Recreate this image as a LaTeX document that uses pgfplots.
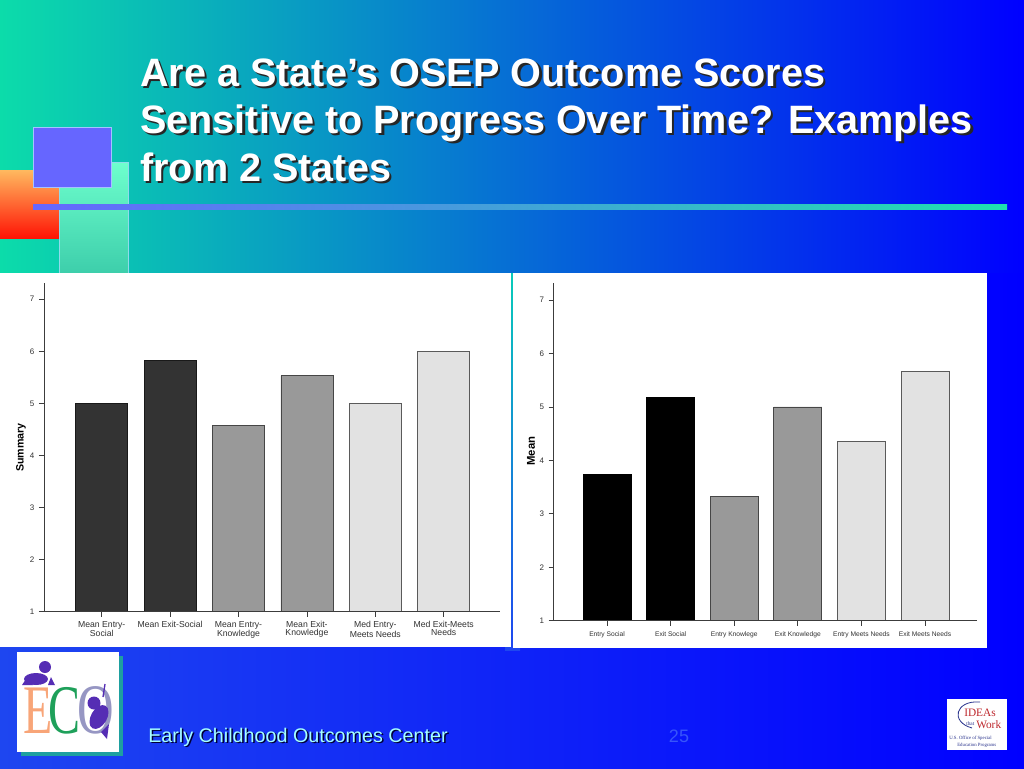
\documentclass[border=0pt]{standalone}
\usepackage{fontspec}
\setmainfont{Liberation Sans}
\newfontfamily\seriffont{Liberation Serif}
\usepackage{pgfplots}
\pgfplotsset{compat=1.18}
\definecolor{bgA}{RGB}{12,220,170}
\definecolor{bgB}{RGB}{0,165,222}
\definecolor{bgC}{RGB}{0,0,255}
\definecolor{bgD}{RGB}{30,70,240}
\definecolor{orT}{RGB}{255,185,95}
\definecolor{orB}{RGB}{255,20,5}
\definecolor{mintT}{RGB}{110,255,205}
\definecolor{mintB}{RGB}{60,205,170}
\definecolor{purp}{RGB}{102,102,255}
\definecolor{purpE}{RGB}{165,195,255}
\definecolor{lineR}{RGB}{30,225,175}
\definecolor{foot}{RGB}{165,255,255}
\definecolor{num}{RGB}{55,85,250}
\definecolor{peach}{RGB}{248,165,120}
\definecolor{ecogreen}{RGB}{30,160,90}
\definecolor{ecogray}{RGB}{150,150,195}
\definecolor{ecopurp}{RGB}{85,45,180}
\definecolor{shadowteal}{RGB}{30,160,160}
\definecolor{ideared}{RGB}{190,40,45}
\definecolor{ideablue}{RGB}{40,50,140}
\definecolor{axgray}{RGB}{60,60,60}
\definecolor{labgray}{RGB}{50,50,50}
\definecolor{cDark}{RGB}{51,51,51}
\definecolor{cMid}{RGB}{153,153,153}
\definecolor{cLight}{RGB}{226,226,226}
\definecolor{eMid}{RGB}{70,70,70}
\definecolor{eLight}{RGB}{90,90,90}
\begin{document}
\begin{tikzpicture}
\useasboundingbox (0,0) rectangle (768pt,-576pt);
\begin{scope}[x=0.75pt,y=-0.75pt]
\clip (0,0) rectangle (1024,768);
% background
\shade[left color=bgA, middle color=bgB, right color=bgC] (0,0) rectangle (1024,274);
\shade[left color=bgD, right color=bgC] (0,273) rectangle (1024,768);
\shade[top color=bgA!70!bgB, bottom color=bgD] (505,273) rectangle (520,650);
% decorations
\shade[top color=orT, bottom color=orB] (0,170) rectangle (59,238);
\shade[top color=mintT, bottom color=mintB] (59,162) rectangle (128,276);
\draw[purpE!60!mintT, line width=0.6pt] (59,276) -- (59,162) -- (128,162) -- (128,276);
\fill[purp] (33,127) rectangle (111,187);
\draw[purpE, line width=0.75pt] (33,127) rectangle (111,187);
\shade[left color=purp, right color=lineR] (33,204) rectangle (1007,209);
% panels
\fill[white] (0,273) rectangle (511,647);
\fill[white] (513,273) rectangle (987,648);
% title
\foreach \t/\yy in {{Are a State’s OSEP Outcome Scores}/86,{Sensitive to Progress Over Time? Examples}/133,{from 2 States}/181}{
  \node[anchor=base west, inner sep=0pt, text=black!85, font=\bfseries\fontsize{29.7}{30}\selectfont] at (142.5,\yy+2.5) {\t};
  \node[anchor=base west, inner sep=0pt, text=white, font=\bfseries\fontsize{29.7}{30}\selectfont] at (140,\yy) {\t};
}
% footer
\node[anchor=base west, inner sep=0pt, text=black!80!blue, font=\fontsize{14.8}{15}\selectfont] at (149.5,743.5) {Early Childhood Outcomes Center};
\node[anchor=base west, inner sep=0pt, text=foot, font=\fontsize{14.8}{15}\selectfont] at (148,742) {Early Childhood Outcomes Center};
\node[anchor=base, inner sep=0pt, text=num, font=\fontsize{13.5}{14}\selectfont] at (679,742) {25};
% ECO logo
\fill[shadowteal] (21,656) rectangle (123,756);
\fill[white] (17,652) rectangle (119,752);
\node[anchor=base, inner sep=0pt, text=peach, font=\seriffont\fontsize{36}{36}\selectfont, yscale=1.45] at (38,733) {E};
\node[anchor=base, inner sep=0pt, text=ecogreen, font=\seriffont\fontsize{36}{36}\selectfont, yscale=1.45] at (65,733) {C};
\node[anchor=base, inner sep=0pt, text=ecogray, font=\seriffont\fontsize{38}{38}\selectfont, yscale=1.4] at (96,733) {O};
\fill[ecopurp] (36,679) ellipse (12 and 6);
\fill[ecopurp] (45,667) circle (6);
\fill[ecopurp] (22,685) -- (28,676) -- (33,685) -- cycle;
\fill[ecopurp] (48,685) -- (51,677) -- (55,685) -- cycle;
\fill[ecopurp] (94,703) circle (6.5);
\fill[ecopurp, rotate around={-30:(99,717)}] (99,717) ellipse (8 and 13);
\draw[ecopurp, line width=1pt] (103,697) -- (105,684);
\fill[ecopurp] (101,732) -- (109,724) -- (107,739) -- cycle;
% IDEAs logo
\fill[white] (947,699) rectangle (1007,750);
\draw[ideablue, line width=0.6pt] (980,702) .. controls (955,700) and (950,722) .. (972,728);
\node[anchor=base west, inner sep=0pt, text=ideared, font=\seriffont\fontsize{8.5}{9}\selectfont] at (964,716) {IDEAs};
\node[anchor=base west, inner sep=0pt, text=ideablue, font=\seriffont\fontsize{4}{4}\selectfont] at (966,725) {that};
\node[anchor=base west, inner sep=0pt, text=ideared, font=\seriffont\fontsize{8.5}{9}\selectfont] at (976,728) {Work};
\node[anchor=base west, inner sep=0pt, text=ideablue, font=\seriffont\fontsize{3.6}{4}\selectfont] at (949,739) {U.S. Office of Special};
\node[anchor=base west, inner sep=0pt, text=ideablue, font=\seriffont\fontsize{3.6}{4}\selectfont] at (957,746) {Education Programs};
\end{scope}

% left chart
\begin{axis}[
  scale only axis, width=342pt, height=246.5pt,
  at={(33pt,-458.8pt)}, anchor=south west,
  xmin=-0.844, xmax=5.823, ymin=1, ymax=7.31,
  axis lines=left, axis line style={-, draw=axgray, line width=0.7pt},
  axis on top,
  ytick={1,2,3,4,5,6,7}, xtick={0,1,2,3,4,5},
  xticklabels={{Mean Entry-\\Social},{Mean Exit-Social},{Mean Entry-\\Knowledge},{Mean Exit-\\Knowledge},{Med Entry-\\Meets Needs},{Med Exit-Meets\\Needs}},
  tick align=outside, major tick length=3.75pt,
  tick style={draw=axgray, line width=0.6pt},
  xticklabel style={font=\fontsize{6.5}{6}\selectfont, text=labgray, align=center, yshift=0pt},
  yticklabel style={font=\fontsize{6}{6}\selectfont, text=labgray},
  /pgf/number format/assume math mode=true,
  ylabel={Summary},
  every axis y label/.style={at={(axis description cs:-0.0504,0.5)}, rotate=90, anchor=center, font=\bfseries\fontsize{8}{8}\selectfont},
]
\addplot[ybar, bar width=39pt, bar shift=0pt, fill=cDark, draw=black!90, line width=0.6pt] coordinates {(0,5.0) (1,5.83)};
\addplot[ybar, bar width=39pt, bar shift=0pt, fill=cMid, draw=eMid, line width=0.6pt] coordinates {(2,4.57) (3,5.53)};
\addplot[ybar, bar width=39pt, bar shift=0pt, fill=cLight, draw=eLight, line width=0.6pt] coordinates {(4,5.0) (5,6.0)};
\end{axis}

% right chart
\begin{axis}[
  scale only axis, width=317.5pt, height=253.3pt,
  at={(415.3pt,-465.5pt)}, anchor=south west,
  xmin=-0.838, xmax=5.818, ymin=1, ymax=7.32,
  axis lines=left, axis line style={-, draw=axgray, line width=0.7pt},
  axis on top,
  ytick={1,2,3,4,5,6,7}, xtick={0,1,2,3,4,5},
  xticklabels={{Entry Social},{Exit Social},{Entry Knowlege},{Exit Knowledge},{Entry Meets Needs},{Exit Meets Needs}},
  tick align=outside, major tick length=3.75pt,
  tick style={draw=axgray, line width=0.6pt},
  xticklabel style={font=\fontsize{5}{5}\selectfont, text=labgray, yshift=-1pt},
  yticklabel style={font=\fontsize{6}{6}\selectfont, text=labgray},
  /pgf/number format/assume math mode=true,
  ylabel={Mean},
  every axis y label/.style={at={(axis description cs:-0.0536,0.502)}, rotate=90, anchor=center, font=\bfseries\fontsize{8.5}{8.5}\selectfont},
]
\addplot[ybar, bar width=36pt, bar shift=0pt, fill=black, draw=black, line width=0.6pt] coordinates {(0,3.74) (1,5.18)};
\addplot[ybar, bar width=36pt, bar shift=0pt, fill=cMid, draw=eMid, line width=0.6pt] coordinates {(2,3.33) (3,5.0)};
\addplot[ybar, bar width=36pt, bar shift=0pt, fill=cLight, draw=eLight, line width=0.6pt] coordinates {(4,4.35) (5,5.67)};
\end{axis}
\end{tikzpicture}
\end{document}
